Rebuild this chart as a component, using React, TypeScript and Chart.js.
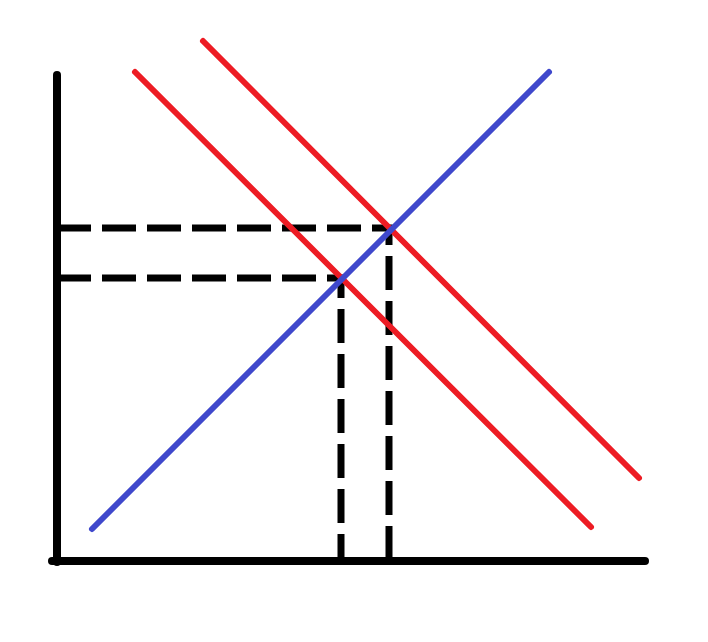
import { useEffect, useRef } from 'react';
import { Chart, registerables } from 'chart.js';

Chart.register(...registerables);

// quantity / price pairs, origin at the corner of the axes
const supplyQ = [35, 492];
const supplyP = [32, 489];

const demand1Q = [78, 534];
const demand1P = [489, 34];

const demand2Q = [146, 582];
const demand2P = [520, 83];

// equilibrium guides: (0, P) -> (Q, P) -> (Q, 0)
const eq1Q = [0, 284, 284];
const eq1P = [283, 283, 0];
const eq2Q = [0, 332, 332];
const eq2P = [333, 333, 0];

const xAxisQ = [-5, 588];
const xAxisP = [0, 0];
const yAxisQ = [0, 0];
const yAxisP = [-1, 486];

const toPoints = (xs: number[], ys: number[]) => xs.map((x, i) => ({ x, y: ys[i] }));

export default function App() {
  const canvasRef = useRef<HTMLCanvasElement | null>(null);

  useEffect(() => {
    if (!canvasRef.current) {
      return;
    }

    const line = (label: string, data: { x: number; y: number }[], color: string, width: number, order: number, dash: number[] = []) => ({
      label,
      data,
      showLine: true,
      borderColor: color,
      backgroundColor: color,
      borderWidth: width,
      borderDash: dash,
      borderCapStyle: dash.length ? ('butt' as const) : ('round' as const),
      borderJoinStyle: 'miter' as const,
      pointRadius: 0,
      fill: false,
      order,
    });

    const chart = new Chart(canvasRef.current, {
      type: 'scatter',
      data: {
        datasets: [
          line('Supply', toPoints(supplyQ, supplyP), '#3f48cc', 6, 0),
          line('Demand', toPoints(demand1Q, demand1P), '#ed1c24', 6, 0),
          line('Demand 2', toPoints(demand2Q, demand2P), '#ed1c24', 6, 0),
          line('Equilibrium 1', toPoints(eq1Q, eq1P), '#000000', 7, 1, [34, 11]),
          line('Equilibrium 2', toPoints(eq2Q, eq2P), '#000000', 7, 1, [34, 11]),
          line('Quantity axis', toPoints(xAxisQ, xAxisP), '#000000', 8, 2),
          line('Price axis', toPoints(yAxisQ, yAxisP), '#000000', 8, 2),
        ],
      },
      options: {
        animation: false,
        responsive: true,
        maintainAspectRatio: false,
        layout: { padding: 0 },
        plugins: { legend: { display: false }, tooltip: { enabled: false } },
        scales: {
          x: { type: 'linear', display: false, min: -57, max: 651 },
          y: { type: 'linear', display: false, min: -81, max: 561 },
        },
      },
    });

    return () => {
      chart.destroy();
    };
  }, []);

  return (
    <div style={{ position: 'fixed', left: 0, top: 0, width: 708, height: 642, background: '#ffffff' }}>
      <canvas ref={canvasRef} />
    </div>
  );
}
